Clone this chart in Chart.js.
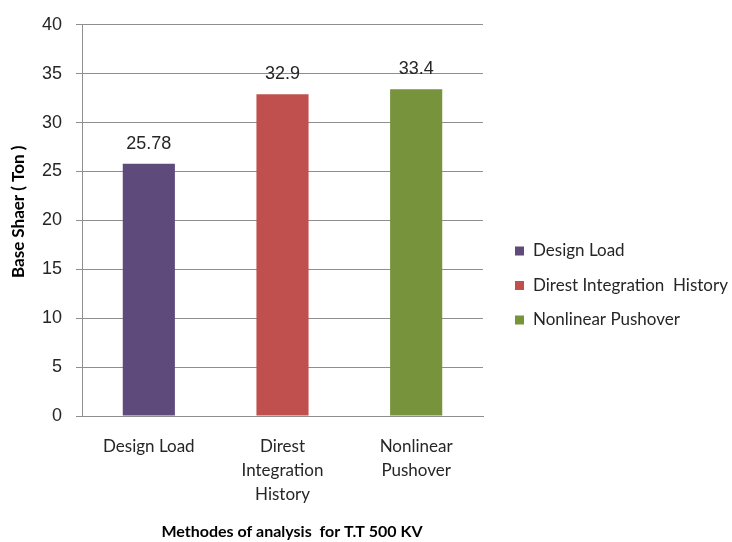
<!DOCTYPE html>
<html>
<head>
<meta charset="utf-8">
<script src="https://cdn.jsdelivr.net/npm/chart.js@4.4.1/dist/chart.umd.min.js"></script>
<style>
  html, body { margin: 0; padding: 0; background: #ffffff; }
  #wrap { width: 732px; height: 542px; }
</style>
</head>
<body>
<div id="wrap"><canvas id="c" width="732" height="542"></canvas></div>
<script>
const categories = ['Design Load', 'Direst Integration  History', 'Nonlinear Pushover'];
const tickLabels = [['Design Load'], ['Direst', 'Integration', 'History'], ['Nonlinear', 'Pushover']];
const values = [25.78, 32.9, 33.4];
const valueLabels = ['25.78', '32.9', '33.4'];
const barColors = ['#5F4B7B', '#C0504D', '#77933C'];
const yTitle = 'Base Shaer ( Ton )';
const xTitle = 'Methodes of analysis  for T.T 500 KV';

const labelFont = 'Lato';
const numFont = '"Liberation Sans", Arial, sans-serif';
const textColor = '#262626';
const gridColor = '#8e8e8e';

const valueLabelPlugin = {
  id: 'valueLabels',
  afterDatasetsDraw(chart) {
    const ctx = chart.ctx;
    const meta = chart.getDatasetMeta(0);
    ctx.save();
    ctx.font = '18px ' + numFont;
    ctx.fillStyle = textColor;
    ctx.textAlign = 'center';
    ctx.textBaseline = 'middle';
    meta.data.forEach((bar, i) => {
      ctx.fillText(valueLabels[i], bar.x, bar.y - 20);
    });
    ctx.restore();
  }
};

const axisTitlePlugin = {
  id: 'axisTitles',
  afterDraw(chart) {
    const ctx = chart.ctx;
    const area = chart.chartArea;
    ctx.save();
    ctx.fillStyle = '#000000';
    ctx.textAlign = 'center';
    ctx.textBaseline = 'middle';
    ctx.font = 'bold 16px ' + labelFont;
    ctx.fillText(xTitle, area.left + 210, 532);
    ctx.translate(19, area.top + 187);
    ctx.rotate(-Math.PI / 2);
    ctx.font = 'bold 17px ' + labelFont;
    ctx.fillText(yTitle, 0, 0);
    ctx.restore();
  }
};

const sideLegendPlugin = {
  id: 'sideLegend',
  afterDraw(chart) {
    const ctx = chart.ctx;
    const area = chart.chartArea;
    const x0 = area.right + 32;
    const yStart = 251;
    const step = 34.5;
    ctx.save();
    ctx.font = '17px ' + labelFont;
    ctx.textBaseline = 'middle';
    ctx.textAlign = 'left';
    categories.forEach((name, i) => {
      const y = yStart + i * step;
      ctx.fillStyle = barColors[i];
      ctx.fillRect(x0, y - 4.5, 9, 9);
      ctx.fillStyle = textColor;
      ctx.fillText(name, x0 + 18, y);
    });
    ctx.restore();
  }
};

new Chart(document.getElementById('c'), {
  type: 'bar',
  data: {
    labels: tickLabels,
    datasets: [{
      label: 'Base Shear',
      data: values,
      backgroundColor: barColors,
      borderWidth: 0,
      barPercentage: 0.39,
      categoryPercentage: 1.0
    }]
  },
  options: {
    responsive: false,
    animation: false,
    events: [],
    layout: { padding: { left: 0, right: 249, top: 23, bottom: 0 } },
    plugins: {
      legend: { display: false },
      tooltip: { enabled: false }
    },
    scales: {
      x: {
        grid: { display: false, drawTicks: false },
        border: { display: true, color: gridColor, width: 1 },
        ticks: {
          color: textColor,
          padding: 19,
          font: { family: labelFont, size: 17, lineHeight: 1.41 }
        },
        title: { display: false },
        afterFit(scale) { scale.height = 126; }
      },
      y: {
        min: 0,
        max: 40,
        ticks: {
          stepSize: 5,
          color: textColor,
          padding: 14,
          font: { family: numFont, size: 18 }
        },
        grid: { color: gridColor, lineWidth: 1, tickLength: 6, drawTicks: true },
        border: { display: true, color: gridColor, width: 1 },
        title: { display: false },
        afterFit(scale) { scale.width = 82; }
      }
    }
  },
  plugins: [valueLabelPlugin, axisTitlePlugin, sideLegendPlugin]
});
</script>
</body>
</html>
